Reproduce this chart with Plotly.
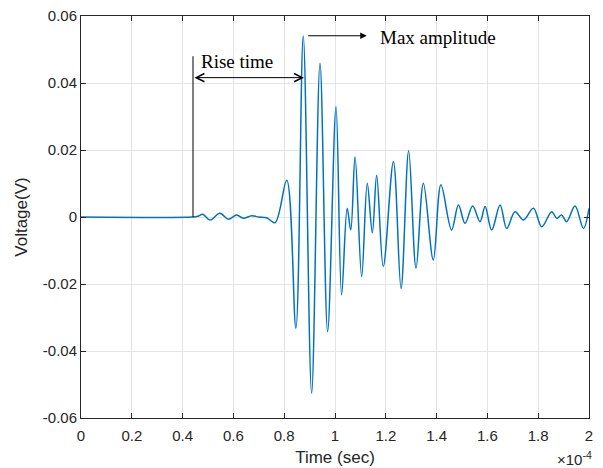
import plotly.graph_objects as go

# Time (seconds) and voltage (V) read at the waveform's turning points
time_s = [0.0, 0.44e-4, 0.46e-4, 0.479e-4, 0.508e-4, 0.547e-4, 0.580e-4, 0.613e-4, 0.639e-4,
          0.672e-4, 0.700e-4, 0.731e-4, 0.764e-4, 0.810e-4, 0.846e-4, 0.875e-4, 0.908e-4,
          0.941e-4, 0.971e-4, 1.004e-4, 1.026e-4, 1.048e-4, 1.062e-4, 1.079e-4, 1.105e-4,
          1.127e-4, 1.147e-4, 1.164e-4, 1.190e-4, 1.230e-4, 1.260e-4, 1.290e-4, 1.319e-4,
          1.348e-4, 1.387e-4, 1.417e-4, 1.459e-4, 1.486e-4, 1.512e-4, 1.542e-4, 1.571e-4,
          1.591e-4, 1.617e-4, 1.650e-4, 1.676e-4, 1.709e-4, 1.742e-4, 1.781e-4, 1.814e-4,
          1.853e-4, 1.873e-4, 1.892e-4, 1.912e-4, 1.945e-4, 1.978e-4, 2.0e-4]
voltage_v = [0.0, 0.0, 0.0002, 0.0008, -0.0009, 0.0011, -0.0007, 0.0006, -0.0004,
             0.0004, 0.0, -0.0002, -0.0017, 0.011, -0.0332, 0.054, -0.0526,
             0.0459, -0.0342, 0.0329, -0.0233, 0.0026, -0.0039, 0.018, -0.0178,
             0.0101, -0.0047, 0.0125, -0.0148, 0.0165, -0.0213, 0.0198, -0.0153,
             0.0101, -0.0128, 0.0096, -0.0039, 0.0036, -0.0019, 0.0033, -0.0014,
             0.0031, -0.0039, 0.0036, -0.0034, 0.0016, -0.0009, 0.0026, -0.0029,
             0.0016, -0.0004, 0.0006, -0.0014, 0.0033, -0.0034, 0.0026]

x_tickvals = [0, 0.2e-4, 0.4e-4, 0.6e-4, 0.8e-4, 1.0e-4, 1.2e-4, 1.4e-4, 1.6e-4, 1.8e-4, 2.0e-4]
x_ticktext = ["0", "0.2", "0.4", "0.6", "0.8", "1", "1.2", "1.4", "1.6", "1.8", "2"]
y_tickvals = [-0.06, -0.04, -0.02, 0, 0.02, 0.04, 0.06]
y_ticktext = ["-0.06", "-0.04", "-0.02", "0", "0.02", "0.04", "0.06"]

# annotation anchor values (data units)
rise_start_t = 0.441e-4
rise_end_t = 0.878e-4
rise_arrow_v = 0.0416
rise_line_top_v = 0.048
max_line_t0 = 0.8886e-4
max_line_t1 = 1.125e-4
max_line_v = 0.0541

AX = "#262626"
GRID = "#e3e3e3"
tick_font = dict(family="Liberation Sans, Arial", size=15, color=AX)

fig = go.Figure()
fig.add_trace(go.Scatter(x=time_s, y=voltage_v, mode="lines",
                         line=dict(color="#0072BD", width=1.5, shape="spline", smoothing=1.0),
                         showlegend=False, hoverinfo="skip"))

fig.update_layout(
    width=595, height=460,
    margin=dict(l=73, r=14, t=8, b=50),
    paper_bgcolor="white", plot_bgcolor="white",
    font=dict(family="Liberation Sans, Arial", color=AX),
    xaxis=dict(range=[0, 2e-4], tickvals=x_tickvals, ticktext=x_ticktext, automargin=False,
               showgrid=True, gridcolor=GRID, gridwidth=1, zeroline=False,
               showline=True, linecolor=AX, linewidth=1, mirror="ticks",
               ticks="inside", ticklen=5, tickcolor=AX, tickfont=tick_font,
               ticklabelstandoff=4, ticklabeloverflow="allow",
               title=dict(text="Time (sec)", font=dict(size=17, color=AX), standoff=8)),
    yaxis=dict(range=[-0.06, 0.06], tickvals=y_tickvals, ticktext=y_ticktext, automargin=False,
               showgrid=True, gridcolor=GRID, gridwidth=1, zeroline=False,
               showline=True, linecolor=AX, linewidth=1, mirror="ticks",
               ticks="inside", ticklen=5, tickcolor=AX, tickfont=tick_font,
               ticklabeloverflow="allow",
               title=dict(text="Voltage(V)", font=dict(size=17, color=AX), standoff=10)),
)

# vertical line at rise start
fig.add_shape(type="line", x0=rise_start_t, x1=rise_start_t, y0=0, y1=rise_line_top_v,
              xref="x", yref="y", line=dict(color="black", width=1))
# double arrow rise time
fig.add_annotation(x=rise_end_t, y=rise_arrow_v, ax=rise_start_t, ay=rise_arrow_v,
                   xref="x", yref="y", axref="x", ayref="y", text="",
                   showarrow=True, arrowhead=5, startarrowhead=5, arrowside="end+start",
                   arrowsize=1.6, startarrowsize=1.6, arrowwidth=1, arrowcolor="black")
fig.add_annotation(x=0.616e-4, y=0.0465, xref="x", yref="y", text="Rise time",
                   showarrow=False, font=dict(family="Liberation Serif, Times New Roman", size=19, color="black"))
# max amplitude arrow
fig.add_annotation(x=max_line_t1, y=max_line_v, ax=max_line_t0, ay=max_line_v,
                   xref="x", yref="y", axref="x", ayref="y", text="",
                   showarrow=True, arrowhead=2, arrowsize=1.3, arrowwidth=1, arrowcolor="black")
fig.add_annotation(x=1.168e-4, y=0.0537, xref="x", yref="y", text="Max amplitude",
                   xanchor="left", showarrow=False,
                   font=dict(family="Liberation Serif, Times New Roman", size=19, color="black"))
# exponent label
fig.add_annotation(x=1, y=0, xref="paper", yref="paper", xanchor="right", yanchor="top",
                   yshift=-29, xshift=5, text="×10<sup>-4</sup>", showarrow=False,
                   font=dict(family="Liberation Sans, Arial", size=15, color=AX))

fig.write_html("out.html")
